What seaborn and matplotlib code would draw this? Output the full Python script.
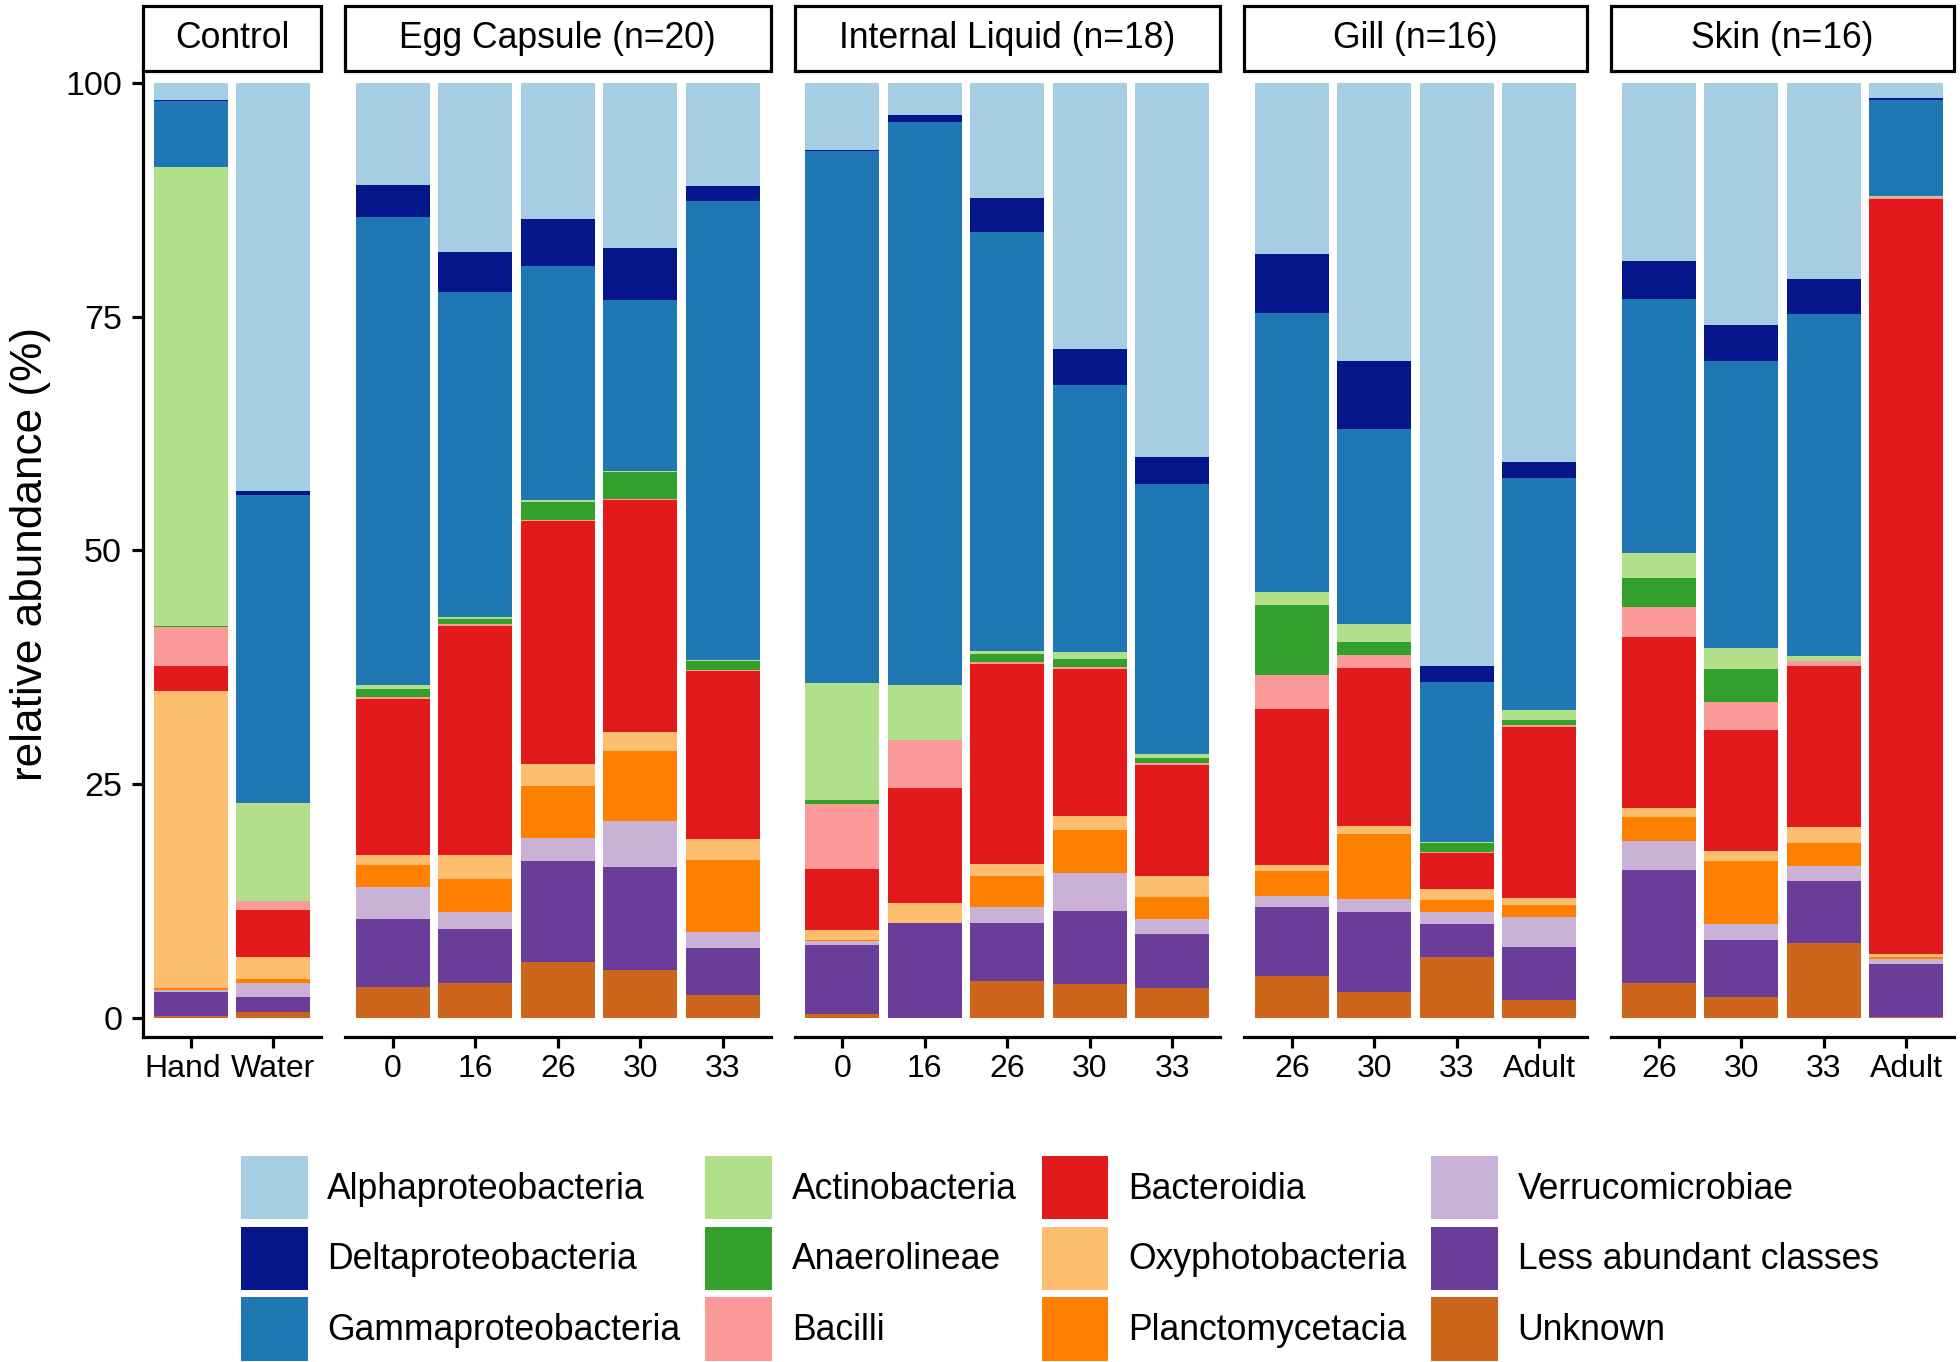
import matplotlib
matplotlib.use("Agg")
import matplotlib.pyplot as plt
import matplotlib.transforms as mtransforms
from matplotlib.patches import Rectangle, Patch
import numpy as np
import pandas as pd
import seaborn as sns

# ---------------- data ----------------
facets = ["Control", "Egg Capsule (n=20)", "Internal Liquid (n=18)", "Gill (n=16)", "Skin (n=16)"]
facet_bars = [
    ["Hand", "Water"],
    ["0", "16", "26", "30", "33"],
    ["0", "16", "26", "30", "33"],
    ["26", "30", "33", "Adult"],
    ["26", "30", "33", "Adult"],
]

classes = ["Alphaproteobacteria", "Deltaproteobacteria", "Gammaproteobacteria",
           "Actinobacteria", "Anaerolineae", "Bacilli", "Bacteroidia",
           "Oxyphotobacteria", "Planctomycetacia", "Verrucomicrobiae",
           "Less abundant classes", "Unknown"]
colors = ["#a6cee3", "#041689", "#1f78b4", "#b2df8a", "#33a02c", "#fb9a99",
          "#e31a1c", "#fdbf6f", "#ff7f00", "#cab2d6", "#6a3d9a", "#cd661d"]

# values per bar, in order: Control(Hand, Water) | Egg Capsule | Internal Liquid | Gill | Skin
alpha = [1.9, 43.6, 10.9, 18.1, 14.6, 17.7, 11.1, 7.2, 3.5, 12.35, 28.4, 40.0, 18.25, 29.7, 62.4, 40.5, 19.0, 25.9, 21.0, 1.6]
delta = [0.1, 0.4, 3.5, 4.25, 5.0, 5.5, 1.5, 0.15, 0.7, 3.55, 3.9, 2.85, 6.4, 7.35, 1.65, 1.75, 4.1, 3.9, 3.65, 0.2]
gamma = [7.0, 32.9, 50.0, 34.7, 25.0, 18.3, 49.1, 56.85, 60.2, 44.8, 28.5, 28.9, 29.8, 20.8, 17.2, 24.8, 27.15, 30.6, 36.55, 10.3]
actino = [49.1, 10.5, 0.4, 0.2, 0.2, 0.1, 0.1, 12.5, 5.9, 0.3, 0.8, 0.4, 1.3, 1.9, 0.1, 1.0, 2.65, 2.35, 0.5, 0.15]
anaero = [0.05, 0.0, 0.9, 0.6, 2.0, 2.9, 1.0, 0.4, 0.0, 0.9, 0.8, 0.5, 7.55, 1.45, 0.9, 0.6, 3.1, 3.5, 0.1, 0.0]
bacilli = [4.2, 0.95, 0.2, 0.15, 0.1, 0.1, 0.1, 6.9, 5.1, 0.2, 0.2, 0.25, 3.6, 1.35, 0.15, 0.2, 3.25, 3.0, 0.5, 0.15]
bacteroidia = [2.7, 5.0, 16.7, 24.5, 26.0, 24.7, 18.0, 6.6, 12.3, 21.35, 15.7, 11.85, 16.65, 16.9, 3.85, 18.2, 18.2, 12.9, 17.2, 80.75]
oxypho = [31.7, 2.45, 1.0, 2.6, 2.3, 2.1, 2.2, 1.0, 2.1, 1.25, 1.55, 2.2, 0.7, 0.9, 1.15, 0.8, 0.95, 1.1, 1.7, 0.25]
plancto = [0.2, 0.4, 2.4, 3.45, 5.6, 7.4, 7.7, 0.1, 0.0, 3.4, 4.6, 2.4, 2.6, 6.95, 1.3, 1.25, 2.6, 6.75, 2.4, 0.25]
verruco = [0.2, 1.45, 3.4, 1.9, 2.45, 4.9, 1.7, 0.45, 0.0, 1.7, 4.0, 1.6, 1.25, 1.3, 1.25, 3.25, 3.1, 1.7, 1.6, 0.5]
less_abundant = [2.6, 1.65, 7.3, 5.7, 10.75, 11.0, 5.1, 7.4, 10.2, 6.2, 7.8, 5.8, 7.3, 8.55, 3.5, 5.65, 12.05, 6.05, 6.7, 5.7]
unknown = [0.25, 0.65, 3.3, 3.8, 6.05, 5.2, 2.45, 0.45, 0.0, 3.95, 3.7, 3.2, 4.55, 2.85, 6.6, 1.95, 3.8, 2.3, 8.0, 0.15]

series = [alpha, delta, gamma, actino, anaero, bacilli, bacteroidia,
          oxypho, plancto, verruco, less_abundant, unknown]

# ---------------- build table ----------------
facet_col, bar_col = [], []
for f, bars in zip(facets, facet_bars):
    for b in bars:
        facet_col.append(f)
        bar_col.append(b)
df = pd.DataFrame({"facet": facet_col, "bar": bar_col})
for c, v in zip(classes, series):
    df[c] = v
vals = df[classes].to_numpy(dtype=float)
vals = vals / vals.sum(axis=1, keepdims=True) * 100.0
# cumulative from the bottom (Unknown) upward; column k = top of class k
cum_from_bottom = np.cumsum(vals[:, ::-1], axis=1)[:, ::-1]
for k, c in enumerate(classes):
    df["top_" + c] = cum_from_bottom[:, k]

# ---------------- style ----------------
sns.set_theme(style="white")
plt.rcParams["font.family"] = ["Liberation Sans", "DejaVu Sans"]
plt.rcParams["text.color"] = "black"
plt.rcParams["xtick.color"] = "black"
plt.rcParams["ytick.color"] = "black"

W, H = 1960, 1362
fig = plt.figure(figsize=(W / 100, H / 100), dpi=100)
gs = fig.add_gridspec(1, 5, width_ratios=[len(b) + 0.16 for b in facet_bars],
                      left=143 / W, right=1954 / W, top=1 - 71 / H, bottom=1 - 1037 / H,
                      wspace=0.07)

panel_h_px = 1037 - 71
strip_h = 65 / panel_h_px

for i, (f, bars) in enumerate(zip(facets, facet_bars)):
    ax = fig.add_subplot(gs[0, i])
    sub = df[df["facet"] == f]
    for k, c in enumerate(classes):
        sns.barplot(x=sub["bar"], y=sub["top_" + c], order=bars, color=colors[k],
                    saturation=1, width=0.9, errorbar=None, ax=ax,
                    edgecolor="none", linewidth=0)
    ax.set_xlim(-0.58, len(bars) - 1 + 0.58)
    ax.set_ylim(-2.0, 101.25)
    ax.set_xlabel("")
    ax.set_ylabel("")
    ax.grid(False)
    for s in ["top", "right"]:
        ax.spines[s].set_visible(False)
    ax.spines["bottom"].set_linewidth(2.3)
    ax.spines["bottom"].set_color("black")
    ax.tick_params(axis="x", bottom=True, length=8, width=2.3, pad=4, labelsize=23)
    if i == 0:
        ax.spines["left"].set_linewidth(2.3)
        ax.spines["left"].set_color("black")
        ax.set_yticks([0, 25, 50, 75, 100])
        ax.set_yticklabels(["0", "25", "50", "75", "100"])
        ax.tick_params(axis="y", left=True, length=8, width=2.3, pad=7, labelsize=24.5)
        # the first label sits slightly left of its tick in the reference
        lab = ax.get_xticklabels()[0]
        lab.set_transform(lab.get_transform() +
                          mtransforms.ScaledTranslation(-8 / 100, 0, fig.dpi_scale_trans))
    else:
        ax.spines["left"].set_visible(False)
        ax.tick_params(axis="y", left=False, labelleft=False)
    # facet strip
    rect = Rectangle((0, 1), 1, strip_h, transform=ax.transAxes, facecolor="white",
                     edgecolor="black", linewidth=2.3, clip_on=False, zorder=5)
    ax.add_patch(rect)
    ax.text(0.5, 1 + strip_h / 2, f, transform=ax.transAxes, ha="center", va="center",
            fontsize=25.6, zorder=6, clip_on=False)

fig.text(31 / W, 1 - 554 / H, "relative abundance (%)", rotation=90, ha="center",
         va="center", fontsize=31.8)

handles = [Patch(facecolor=col, edgecolor="none") for col in colors]
fig.legend(handles, classes, ncol=4, loc="upper left",
           bbox_to_anchor=(241 / W, 1 - 1156 / H), frameon=False, fontsize=25.6,
           handlelength=1.88, handleheight=2.37, handletextpad=0.55,
           columnspacing=0.7, labelspacing=0.2, borderpad=0, borderaxespad=0)

fig.savefig("out.png", dpi=100, facecolor="white")
